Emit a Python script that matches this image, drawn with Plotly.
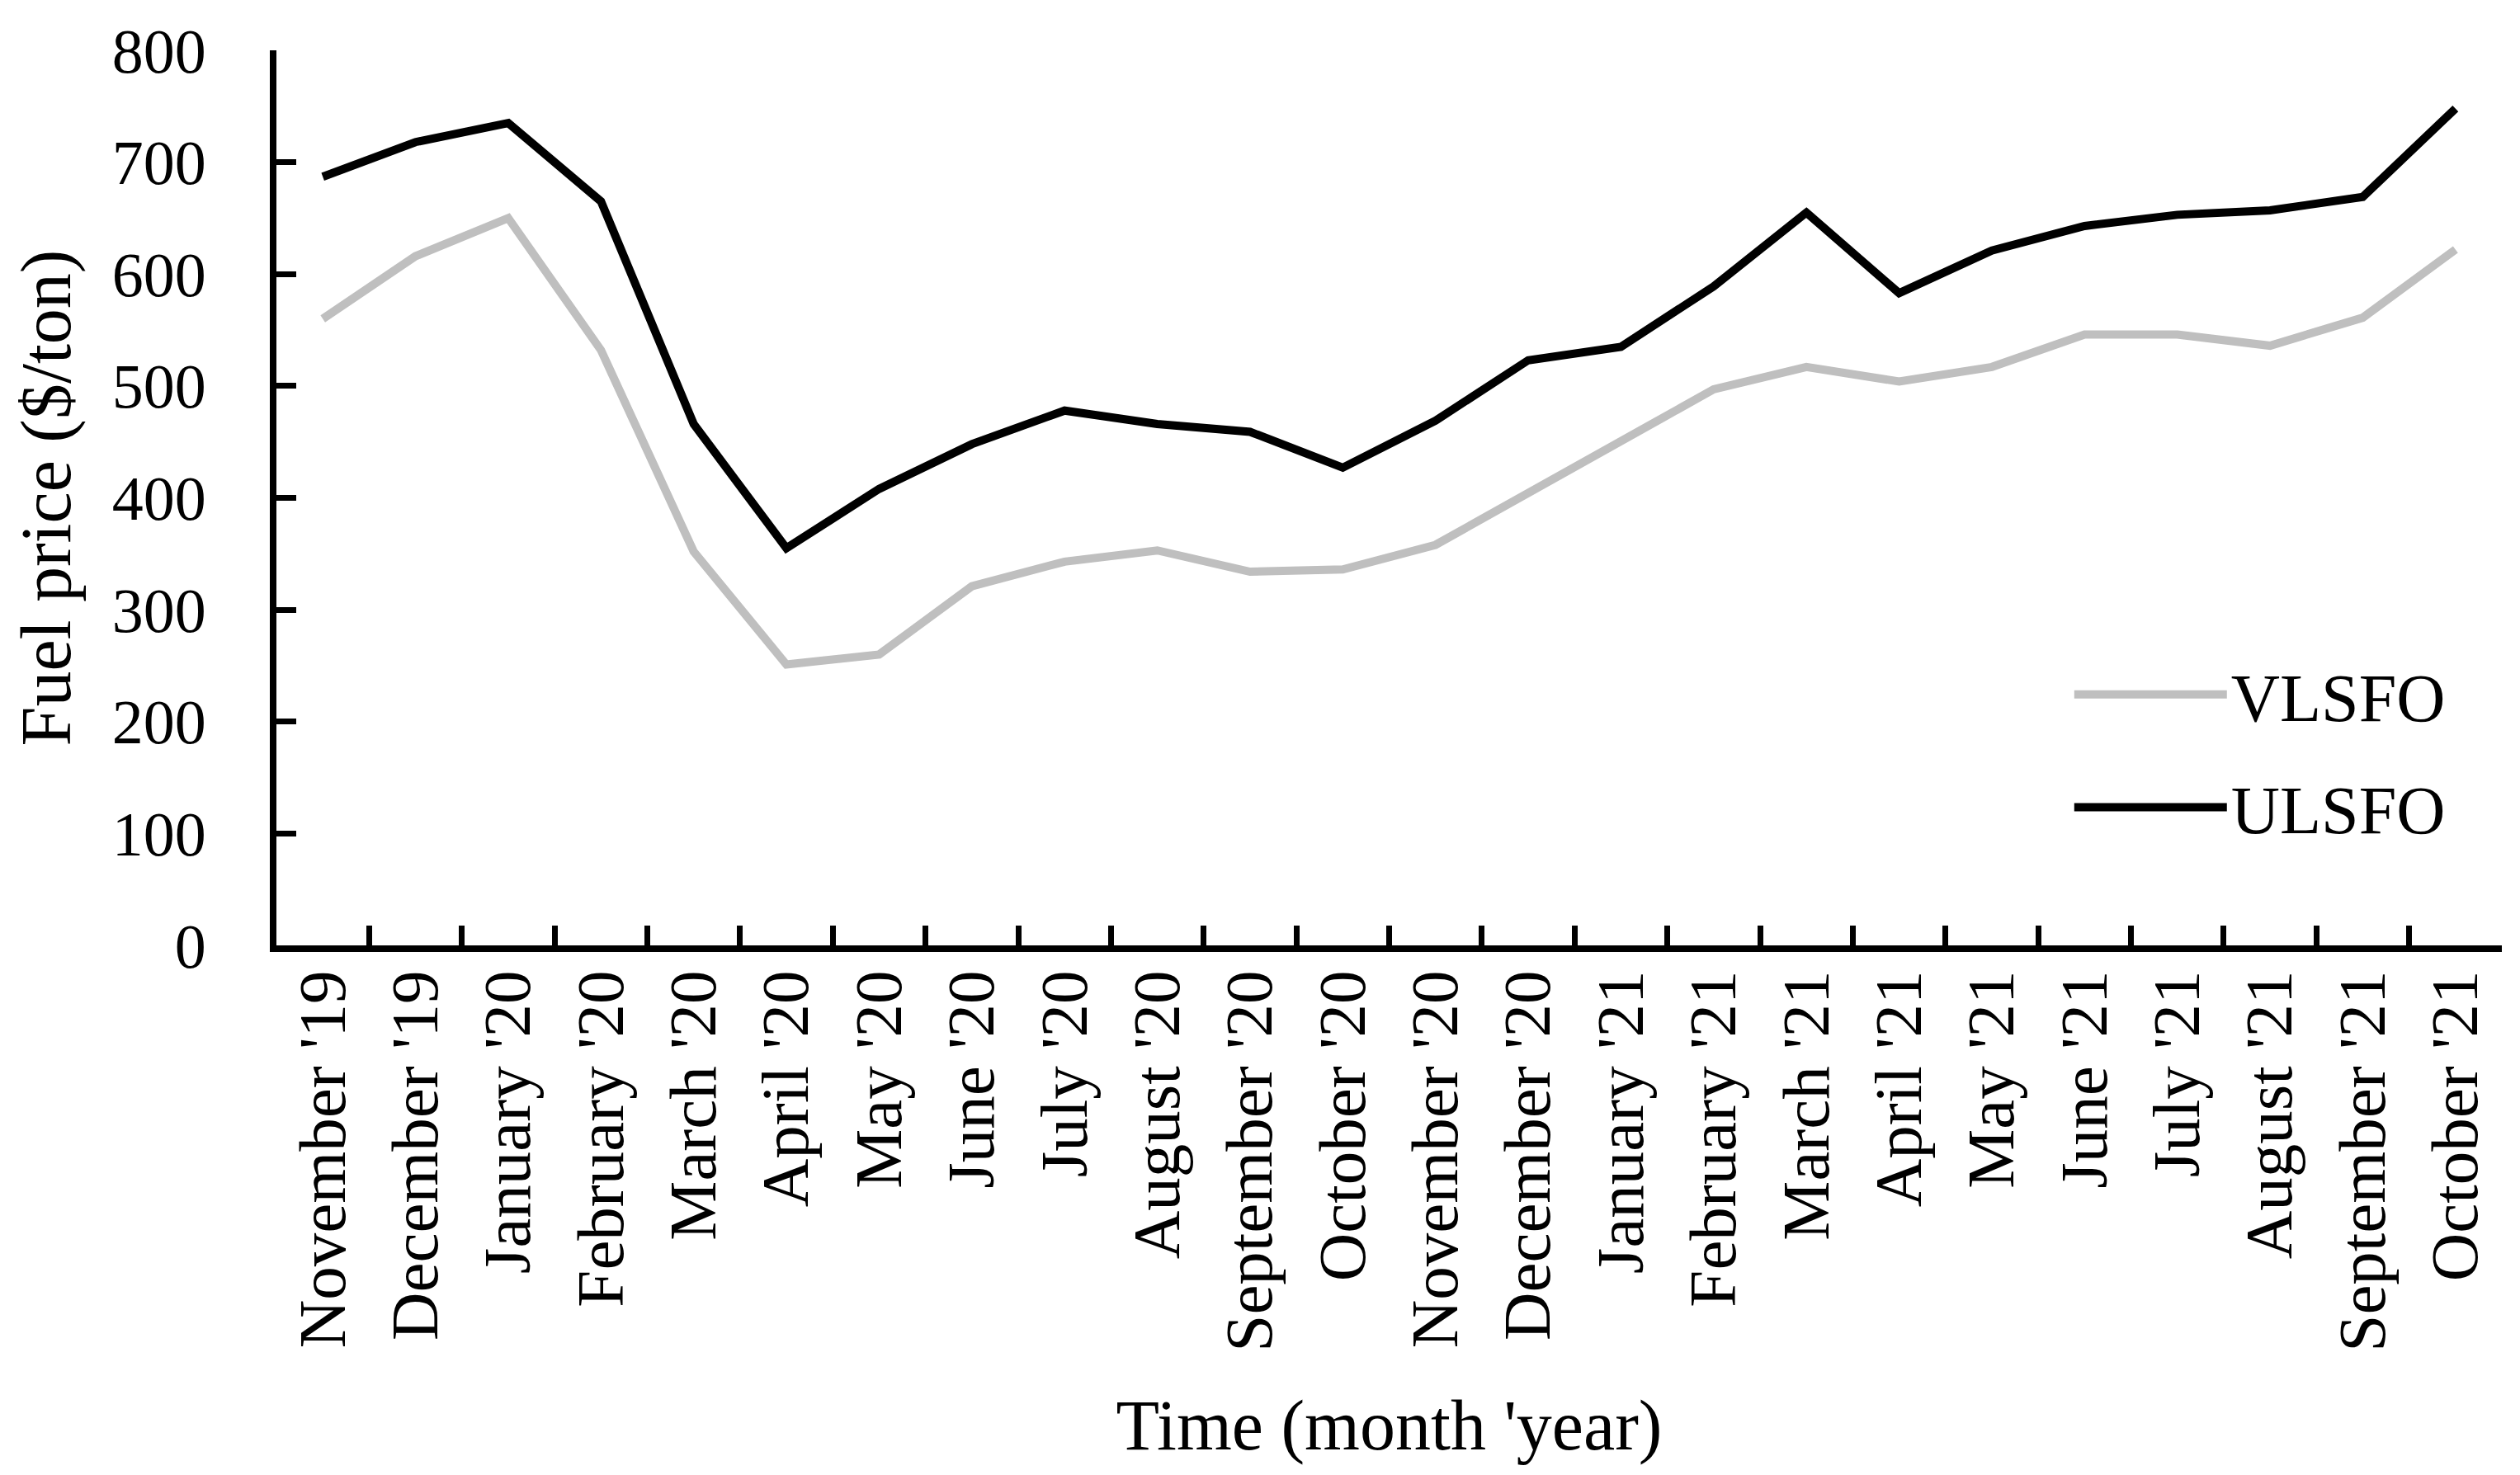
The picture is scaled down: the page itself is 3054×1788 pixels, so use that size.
import plotly.graph_objects as go

months = ["November '19", "December '19", "January '20", "February '20", "March '20",
          "April '20", "May '20", "June '20", "July '20", "August '20", "September '20",
          "October '20", "November '20", "December '20", "January '21", "February '21",
          "March '21", "April '21", "May '21", "June '21", "July '21", "August '21",
          "September '21", "October '21"]

vlsfo = [560, 616, 650, 532, 352, 251, 260, 321, 343, 353, 334, 336,
         358, 404, 449, 497, 517, 504, 517, 546, 546, 536, 561, 622]

ulsfo = [687, 718, 735, 665, 466, 355, 408, 448, 478, 466, 459, 427,
         469, 523, 535, 589, 655, 583, 621, 643, 653, 657, 669, 748]

y_ticks = [0, 100, 200, 300, 400, 500, 600, 700, 800]

FONT = "Liberation Serif, Times New Roman, serif"

fig = go.Figure()
fig.add_trace(go.Scatter(x=months, y=vlsfo, mode="lines", name="VLSFO",
                         legendgroup="v",
                         line=dict(color="#BFBFBF", width=10)))
fig.add_trace(go.Scatter(x=months, y=ulsfo, mode="lines", name="ULSFO",
                         legendgroup="u",
                         line=dict(color="#000000", width=10)))

fig.update_layout(
    width=3054, height=1788,
    margin=dict(l=327, r=30, t=51, b=650),
    paper_bgcolor="white", plot_bgcolor="white",
    font=dict(family=FONT, color="black", size=76),
    showlegend=True,
    legend=dict(
        x=0.806, y=0.217, xanchor="left", yanchor="middle",
        font=dict(family=FONT, size=82, color="black"),
        bgcolor="rgba(0,0,0,0)",
        itemwidth=185,
        tracegroupgap=27,
    ),
)

fig.update_xaxes(
    type="category",
    categoryorder="array", categoryarray=months,
    range=[-0.5, len(months) - 0.5],
    showline=True, linecolor="black", linewidth=8,
    ticks="inside", ticklen=24, tickwidth=7, tickcolor="black",
    tickson="boundaries",
    tickangle=-90,
    tickfont=dict(family=FONT, size=81, color="black"),
    ticklabelstandoff=-10,
    showgrid=False, zeroline=False,
    title=dict(text="Time (month 'year)", font=dict(family=FONT, size=86, color="black"),
               standoff=62),
)

fig.update_yaxes(
    range=[0, 800],
    tickvals=y_ticks,
    showline=True, linecolor="black", linewidth=8,
    ticks="inside", ticklen=24, tickwidth=7, tickcolor="black",
    tickfont=dict(family=FONT, size=76, color="black"),
    ticklabelstandoff=62,
    showgrid=False, zeroline=False,
    title=dict(text="Fuel price ($/ton)", font=dict(family=FONT, size=86, color="black"),
               standoff=30),
)

fig.write_html("out.html")
